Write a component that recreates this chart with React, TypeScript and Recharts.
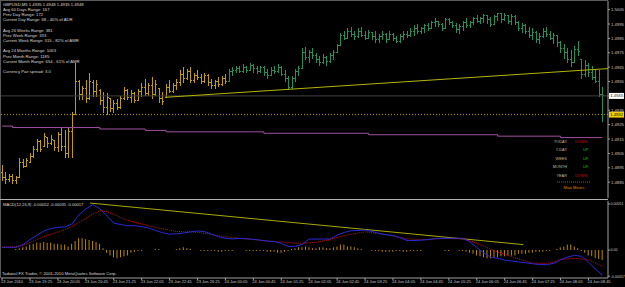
import { Bar, ComposedChart, Line, ReferenceLine, XAxis, YAxis } from 'recharts';

const FONT = '"Liberation Sans", Arial, sans-serif';
const GOLD = '#c09a14';
const GREEN = '#2e8b57';
const GREEN_FROM = 65;

// GBPUSD M5 bars, 23 Jun 18:45 .. 24 Jun 09:05
const OPEN = [
  1.4892, 1.4888, 1.4887, 1.4889, 1.4886, 1.4888, 1.4899, 1.4896, 1.4899, 1.4903,
  1.4908, 1.4913, 1.491, 1.4916, 1.4912, 1.4914, 1.4909, 1.4918, 1.491, 1.4905,
  1.492, 1.4932, 1.4955, 1.4946, 1.495, 1.4943, 1.4954, 1.4948, 1.4949, 1.4942,
  1.4937, 1.4943, 1.4936, 1.494, 1.4937, 1.4943, 1.4949, 1.4944, 1.4947, 1.4942,
  1.4948, 1.4951, 1.4947, 1.4952, 1.4946, 1.495, 1.4943, 1.4944, 1.4951, 1.4948,
  1.4952, 1.4954, 1.496, 1.4957, 1.4962, 1.4956, 1.4959, 1.4958, 1.4955, 1.4959,
  1.4954, 1.4952, 1.4955, 1.4953, 1.4957, 1.4955, 1.4962, 1.4963, 1.4964, 1.4962,
  1.4965, 1.4963, 1.4966, 1.4964, 1.4962, 1.4965, 1.4961, 1.4959, 1.4963, 1.4962,
  1.4965, 1.496, 1.4957, 1.4951, 1.4957, 1.4962, 1.4964, 1.4975, 1.4972, 1.4975,
  1.4973, 1.497, 1.4968, 1.4972, 1.4969, 1.4973, 1.4975, 1.498, 1.4987, 1.4985,
  1.499, 1.4988, 1.4986, 1.499, 1.4987, 1.4985, 1.4989, 1.4986, 1.4984, 1.4986,
  1.4988, 1.4984, 1.4988, 1.4985, 1.4983, 1.4986, 1.4988, 1.4987, 1.499, 1.4992,
  1.499, 1.4992, 1.4994, 1.4992, 1.4996, 1.4997, 1.4995, 1.4992, 1.4998, 1.4996,
  1.4994, 1.4991, 1.4993, 1.4996, 1.4994, 1.4996, 1.4999, 1.4997, 1.4999, 1.5001,
  1.4998, 1.4995, 1.5, 1.5002, 1.4998, 1.5001, 1.4997, 1.5, 1.4996, 1.4992,
  1.4994, 1.499, 1.4987, 1.4989, 1.4984, 1.4986, 1.499, 1.4988, 1.4985, 1.4987,
  1.4982, 1.4978, 1.4975, 1.497, 1.4968, 1.4977, 1.497, 1.496, 1.4966, 1.4961,
  1.4958, 1.4955, 1.4946,
];
const HIGH = [
  1.4897, 1.4892, 1.4891, 1.4891, 1.4889, 1.4902, 1.4901, 1.4902, 1.4905, 1.491,
  1.4915, 1.4914, 1.4919, 1.4916, 1.4918, 1.4914, 1.492, 1.4923, 1.4921, 1.4923,
  1.4934, 1.4968, 1.4956, 1.4952, 1.4956, 1.4961, 1.4956, 1.4956, 1.495, 1.4948,
  1.4947, 1.4943, 1.4942, 1.4943, 1.4945, 1.4951, 1.495, 1.4949, 1.4948, 1.495,
  1.4954, 1.4957, 1.4954, 1.4958, 1.4956, 1.495, 1.4948, 1.4953, 1.4956, 1.4954,
  1.4957, 1.4963, 1.4965, 1.4964, 1.4965, 1.4961, 1.4963, 1.496, 1.4961, 1.496,
  1.4957, 1.4956, 1.4958, 1.4959, 1.496, 1.4964, 1.4965, 1.4966, 1.4966, 1.4967,
  1.4966, 1.4968, 1.4967, 1.4966, 1.4966, 1.4966, 1.4964, 1.4965, 1.4966, 1.4967,
  1.4966, 1.4963, 1.4959, 1.4959, 1.4964, 1.4966, 1.4978, 1.4979, 1.4977, 1.4978,
  1.4975, 1.4973, 1.4974, 1.4973, 1.4975, 1.4977, 1.4981, 1.4989, 1.499, 1.4992,
  1.4993, 1.499, 1.4992, 1.4993, 1.499, 1.4991, 1.4989, 1.499, 1.4988, 1.499,
  1.4989, 1.499, 1.4989, 1.4987, 1.4988, 1.499, 1.499, 1.4992, 1.4994, 1.4995,
  1.4993, 1.4995, 1.4996, 1.4997, 1.4999, 1.4997, 1.4996, 1.4999, 1.4999, 1.4997,
  1.4996, 1.4995, 1.4997, 1.4999, 1.4997, 1.5, 1.5001, 1.5, 1.5002, 1.5001,
  1.5, 1.5001, 1.5003, 1.5002, 1.5003, 1.5001, 1.5002, 1.5001, 1.4997, 1.4996,
  1.4995, 1.4993, 1.4992, 1.499, 1.4989, 1.4992, 1.4993, 1.499, 1.4989, 1.4987,
  1.4983, 1.4981, 1.4978, 1.4977, 1.498, 1.4983, 1.497, 1.497, 1.4968, 1.4966,
  1.4964, 1.4963, 1.4951,
];
const LOW = [
  1.4886, 1.4884, 1.4885, 1.4884, 1.4884, 1.4888, 1.4895, 1.4896, 1.4898, 1.4902,
  1.4906, 1.4906, 1.491, 1.4909, 1.4911, 1.4907, 1.4906, 1.4907, 1.4902, 1.4902,
  1.4902, 1.4932, 1.4942, 1.4942, 1.494, 1.4942, 1.4944, 1.4944, 1.4939, 1.4933,
  1.4932, 1.4934, 1.4933, 1.4935, 1.4936, 1.4942, 1.4942, 1.494, 1.494, 1.4942,
  1.4944, 1.4945, 1.4945, 1.4943, 1.4945, 1.494, 1.4939, 1.4944, 1.4947, 1.4947,
  1.4949, 1.4952, 1.4954, 1.4956, 1.4954, 1.4954, 1.4956, 1.4953, 1.4954, 1.4952,
  1.495, 1.495, 1.4951, 1.4952, 1.4953, 1.4955, 1.4959, 1.4961, 1.4961, 1.4961,
  1.4961, 1.4963, 1.4961, 1.496, 1.4961, 1.4959, 1.4957, 1.4959, 1.496, 1.4961,
  1.4959, 1.4955, 1.4949, 1.495, 1.4955, 1.4959, 1.4964, 1.497, 1.4968, 1.4971,
  1.4968, 1.4966, 1.4967, 1.4966, 1.4968, 1.497, 1.4975, 1.498, 1.4984, 1.4985,
  1.4986, 1.4984, 1.4985, 1.4986, 1.4984, 1.4985, 1.4984, 1.4982, 1.4982, 1.4984,
  1.4982, 1.4984, 1.4983, 1.4982, 1.4982, 1.4984, 1.4985, 1.4986, 1.4987, 1.4988,
  1.4988, 1.4989, 1.499, 1.4992, 1.4993, 1.4993, 1.499, 1.4992, 1.4994, 1.4992,
  1.4989, 1.4988, 1.499, 1.4992, 1.4992, 1.4994, 1.4996, 1.4995, 1.4996, 1.4995,
  1.4993, 1.4994, 1.4997, 1.4996, 1.4997, 1.4995, 1.4994, 1.4994, 1.499, 1.4989,
  1.4988, 1.4985, 1.4984, 1.4982, 1.4981, 1.4985, 1.4986, 1.4984, 1.4981, 1.4979,
  1.4975, 1.4971, 1.4968, 1.4965, 1.4968, 1.4973, 1.4957, 1.4958, 1.4958, 1.4956,
  1.4954, 1.4944, 1.4927,
];
const CLOSE = [
  1.4888, 1.4887, 1.4889, 1.4886, 1.4888, 1.4899, 1.4896, 1.49, 1.4903, 1.4908,
  1.4913, 1.4908, 1.4917, 1.4912, 1.4915, 1.4909, 1.4918, 1.491, 1.4905, 1.492,
  1.4932, 1.4955, 1.4946, 1.495, 1.4943, 1.4955, 1.4948, 1.4953, 1.4942, 1.4937,
  1.4944, 1.4936, 1.494, 1.4937, 1.4943, 1.4949, 1.4944, 1.4947, 1.4942, 1.4948,
  1.4951, 1.4947, 1.4952, 1.4946, 1.4953, 1.4943, 1.4941, 1.4951, 1.4948, 1.4952,
  1.4954, 1.496, 1.4957, 1.4962, 1.4956, 1.4959, 1.4958, 1.4955, 1.4959, 1.4954,
  1.4952, 1.4955, 1.4953, 1.4957, 1.4955, 1.4962, 1.4963, 1.4964, 1.4962, 1.4965,
  1.4963, 1.4966, 1.4964, 1.4962, 1.4965, 1.4961, 1.4959, 1.4963, 1.4962, 1.4965,
  1.496, 1.4957, 1.4951, 1.4957, 1.4962, 1.4964, 1.4975, 1.4972, 1.4975, 1.4973,
  1.497, 1.4968, 1.4972, 1.4969, 1.4973, 1.4975, 1.498, 1.4987, 1.4985, 1.499,
  1.4988, 1.4986, 1.499, 1.4987, 1.4985, 1.4989, 1.4986, 1.4984, 1.4986, 1.4988,
  1.4984, 1.4988, 1.4985, 1.4983, 1.4986, 1.4988, 1.4987, 1.499, 1.4992, 1.499,
  1.4992, 1.4994, 1.4992, 1.4996, 1.4997, 1.4995, 1.4992, 1.4998, 1.4996, 1.4994,
  1.4991, 1.4993, 1.4996, 1.4994, 1.4996, 1.4999, 1.4997, 1.4999, 1.5001, 1.4998,
  1.4995, 1.5, 1.5002, 1.4998, 1.5001, 1.4997, 1.5, 1.4996, 1.4992, 1.4994,
  1.499, 1.4987, 1.4989, 1.4984, 1.4986, 1.499, 1.4988, 1.4985, 1.4987, 1.4982,
  1.4978, 1.4975, 1.497, 1.4968, 1.4977, 1.4976, 1.496, 1.4966, 1.4961, 1.4958,
  1.4955, 1.4946, 1.4945,
];

// slow stepped level (purple)
const PIVOT_AT = [0, 3, 28, 41, 47, 75, 105, 142, 160, 172];
const PIVOT = [1.4924, 1.4923, 1.4922, 1.4921, 1.492, 1.4919, 1.4918, 1.4917, 1.4916, 1.4916];

const BID = 1.4945;
const LEVEL = 1.4932;
const TREND_MAIN = [{ i: 46.7, p: 1.4944 }, { i: 173.6, p: 1.4964 }];

// MACD, main and signal sampled on every second bar
const MACD_MAIN = [
  0.00003, 0.00003, 0.00003, 0.000061, 0.000116, 0.000163, 0.000211, 0.000239, 0.000251, 0.000256,
  0.000288, 0.000388, 0.000455, 0.000503, 0.000458, 0.000377, 0.000299, 0.000282, 0.000269, 0.000269,
  0.000259, 0.000244, 0.000215, 0.000192, 0.000175, 0.00018, 0.000188, 0.000202, 0.000211, 0.000204,
  0.000177, 0.000147, 0.000129, 0.000123, 0.000129, 0.000125, 0.000119, 0.000108, 0.000098, 0.000094,
  0.000073, 0.000039, 0.000042, 0.000063, 0.000122, 0.000121, 0.000122, 0.000122, 0.000166, 0.000195,
  0.000213, 0.000217, 0.000221, 0.000206, 0.000184, 0.000169, 0.000162, 0.000137, 0.000105, 0.000105,
  0.000109, 0.000116, 0.000126, 0.00013, 0.00013, 0.00013, 0.00013, 0.000092, 0.000028, -0.000032,
  -0.000078, -0.000092, -0.000112, -0.000122, -0.000132, -0.000142, -0.000152, -0.000161, -0.000163, -0.000147,
  -0.000109, -0.000078, -0.000059, -0.00007, -0.000133, -0.000211, -0.000277,
];
const MACD_SIGNAL = [
  0.00003, 0.000032, 0.000035, 0.000053, 0.000083, 0.000115, 0.000149, 0.000175, 0.0002, 0.000227,
  0.000258, 0.000305, 0.000351, 0.000399, 0.000435, 0.000426, 0.000396, 0.00036, 0.000327, 0.000307,
  0.000288, 0.000268, 0.000249, 0.000233, 0.00022, 0.000206, 0.000202, 0.0002, 0.000196, 0.000185,
  0.000172, 0.000159, 0.000149, 0.000139, 0.000129, 0.000122, 0.000116, 0.000109, 0.000101, 0.000094,
  0.000089, 0.000082, 0.000075, 0.000075, 0.00008, 0.000085, 0.0001, 0.000118, 0.000139, 0.000159,
  0.000174, 0.000188, 0.000202, 0.000191, 0.000181, 0.000171, 0.000154, 0.00014, 0.000126, 0.00012,
  0.000114, 0.000115, 0.000121, 0.000127, 0.000127, 0.000125, 0.000122, 0.000101, 0.000076, 0.000043,
  0.00001, -0.000023, -0.000048, -0.000073, -0.000098, -0.000123, -0.000146, -0.000147, -0.000147, -0.000136,
  -0.000105, -0.000096, -0.000093, -0.000099, -0.00011, -0.000143, -0.000182,
];
const MACD_HIST = [
  0, 0, 0, 0, 0.00001, 0.00002, 0.00003, 0.00004, 0.00006, 0.00007,
  0.00008, 0.00008, 0.00009, 0.00008, 0.00008, 0.00007, 0.00007, 0.00006, 0.00006, 0.00004,
  0.00007, 0.0001, 0.00013, 0.00013, 0.00012, 0.00011, 0.0001, 0.00009, 0.00007, 0.00002,
  -0.00003, -0.00006, -0.00008, -0.00009, -0.00008, -0.00007, -0.00006, -0.00003, -0.00002, -0.00001,
  -0.00001, 0, 0, 0, 0.00001, 0.00001, 0, 0, 0, 0,
  0.00001, 0.00002, 0.00003, 0.00002, 0.00001, 0, 0, -0.00001, -0.00001, -0.00001,
  -0.00001, -0.00001, -0.00002, -0.00002, -0.00001, -0.00001, -0.00001, 0, 0, 0,
  -0.00001, -0.00001, -0.00001, -0.00001, -0.00001, -0.00001, -0.00002, -0.00002, -0.00002, -0.00003,
  -0.00003, -0.00002, -0.00001, 0.00001, 0.00002, 0.00003, 0.00003, 0.00004, 0.00003, 0.00002,
  0.00002, 0.00003, 0.00003, 0.00002, 0.00002, 0.00003, 0.00004, 0.00006, 0.00006, 0.00004,
  0.00004, 0.00003, 0.00002, 0.00001, 0, 0, -0.00001, -0.00001, -0.00001, -0.00002,
  -0.00002, -0.00002, -0.00002, -0.00001, -0.00001, -0.00002, -0.00002, -0.00001, -0.00001, -0.00001,
  -0.00001, 0, 0, 0, 0, 0, 0, -0.00001, -0.00001, 0,
  0, -0.00001, -0.00001, -0.00002, -0.00003, -0.00004, -0.00006, -0.00007, -0.00008, -0.00009,
  -0.00009, -0.00008, -0.00008, -0.00007, -0.00007, -0.00006, -0.00006, -0.00006, -0.00004, -0.00004,
  -0.00004, -0.00003, -0.00003, -0.00002, -0.00002, -0.00002, -0.00001, -0.00001, 0, 0.00001,
  0.00003, 0.00004, 0.00006, 0.00006, 0.00004, 0.00002, -0.00001, -0.00003, -0.00006, -0.00007,
  -0.00009, -0.0001, -0.00011,
];
const TREND_MACD = [{ i: 25.2, v: 0.00052 }, { i: 149.3, v: 0.00006 }];

const PRICE_TICKS = [
  1.5005, 1.4995, 1.4985, 1.4975, 1.4965, 1.4955, 1.4945, 1.4935, 1.4925, 1.4915, 1.4905, 1.4895, 1.4885,
];
const MACD_TICKS = [0.00051, 0, -0.00029];
const MACD_TICK_TEXT = ['0.00051', '0.00', '-0.00057'];

const TIME_LABELS = [
  '23 Jun 2010', '23 Jun 19:25', '23 Jun 20:05', '23 Jun 20:45', '23 Jun 21:25', '23 Jun 22:05',
  '23 Jun 22:45', '23 Jun 23:25', '24 Jun 00:05', '24 Jun 00:45', '24 Jun 01:25', '24 Jun 02:05',
  '24 Jun 02:45', '24 Jun 03:25', '24 Jun 04:05', '24 Jun 04:45', '24 Jun 05:25', '24 Jun 06:05',
  '24 Jun 06:45', '24 Jun 07:25', '24 Jun 08:05', '24 Jun 08:45',
];
const TIME_TICKS = TIME_LABELS.map((_, k) => k * 8);

const INFO_LINES = [
  'GBPUSD,M5  1.4935 1.4948 1.4935 1.4948',
  'Avg 60 Days Range: 167',
  'Prev Day Range: 172',
  'Current Day Range: 68 - 40% of ADR',
  '',
  'Avg 26 Weeks Range: 381',
  'Prev Week Range: 333',
  'Current Week Range: 315 - 82% of AWR',
  '',
  'Avg 24 Months Range: 1063',
  'Prev Month Range: 1185',
  'Current Month Range: 654 - 61% of AMR',
  '',
  'Currency Pair spread: 3.0',
];
const MOVE_LABELS = ['TODAY', 'Y-DAY', 'WEEK', 'MONTH', 'YEAR'];
const MOVE_STATUS = ['DOWN', 'UP', 'UP', 'UP', 'DOWN'];

const X_DOMAIN = [-0.3, 173.6];

const rows = OPEN.map((o, i) => {
  const k = PIVOT_AT.indexOf(i);
  return {
    i,
    open: o,
    high: HIGH[i],
    low: LOW[i],
    close: CLOSE[i],
    range: [LOW[i], HIGH[i]],
    pivot: k >= 0 ? PIVOT[k] : null,
    main: i % 2 === 0 ? MACD_MAIN[i / 2] : null,
    signal: i % 2 === 0 ? MACD_SIGNAL[i / 2] : null,
    hist: MACD_HIST[i],
  };
});

function OhlcShape(props: any) {
  const { x, y, width, height, payload } = props;
  if (x == null || y == null) return null;
  const top = Math.min(y, y + height);
  const h = Math.max(Math.abs(height), 1);
  const span = payload.high - payload.low || 1;
  const py = (v: number) => top + ((payload.high - v) / span) * h;
  const cx = Math.round(x + width / 2) + 0.5;
  const color = payload.i >= GREEN_FROM ? GREEN : GOLD;
  return (
    <path
      d={`M${cx},${top}V${top + h}M${cx - 1.2},${py(payload.open)}H${cx}M${cx},${py(payload.close)}H${cx + 1.2}`}
      stroke={color}
      strokeWidth={1}
      fill="none"
      shapeRendering="crispEdges"
    />
  );
}

function PriceTick({ x, y, payload }: any) {
  return (
    <text x={x} y={y + 1.5} fontSize={4.2} fontFamily={FONT} fill="#c8c8c8">
      {payload.value.toFixed(4)}
    </text>
  );
}

function MacdTick({ x, y, payload }: any) {
  const k = MACD_TICKS.indexOf(payload.value);
  return (
    <text x={x - 0.5} y={y + 1.4} fontSize={3.6} fontFamily={FONT} fill="#c8c8c8">
      {MACD_TICK_TEXT[k]}
    </text>
  );
}

function TimeTick({ x, y, payload }: any) {
  return (
    <text x={x - 1} y={y + 2} fontSize={4} fontFamily={FONT} fill="#c8c8c8">
      {TIME_LABELS[payload.value / 8]}
    </text>
  );
}

function PriceTag({ viewBox, text, bg }: any) {
  if (!viewBox) return null;
  const x = viewBox.x + viewBox.width + 1;
  const y = viewBox.y;
  return (
    <g>
      <rect x={x} y={y - 3} width={15} height={6} fill={bg} />
      <text x={x + 1.2} y={y + 1.5} fontSize={4.2} fontFamily={FONT} fill="#000">
        {text}
      </text>
    </g>
  );
}

export default function App() {
  return (
    <div
      style={{
        position: 'fixed',
        left: 0,
        top: 0,
        width: 625,
        height: 287,
        background: '#000',
        overflow: 'hidden',
      }}
    >
      <div style={{ position: 'absolute', left: 0, top: 0, width: 608, height: 1, background: '#5a5a5a' }} />
      <div style={{ position: 'absolute', left: 0, top: 0, width: 1, height: 278, background: '#5a5a5a' }} />
      <div style={{ position: 'absolute', left: 0, top: 199, width: 608, height: 1, background: '#b0b0b0' }} />

      <div style={{ position: 'absolute', left: 0, top: 0 }}>
        <ComposedChart width={625} height={199} data={rows} margin={{ top: 1, right: 0, bottom: 1, left: 1 }}>
          <XAxis dataKey="i" type="number" domain={X_DOMAIN} allowDataOverflow hide />
          <YAxis
            orientation="right"
            width={17}
            domain={[1.4874, 1.5011]}
            allowDataOverflow
            ticks={PRICE_TICKS}
            interval={0}
            tickSize={2}
            tickMargin={1}
            axisLine={{ stroke: '#a0a0a0' }}
            tickLine={{ stroke: '#a0a0a0' }}
            tick={<PriceTick />}
          />
          <ReferenceLine y={BID} stroke="#404040" label={<PriceTag text={BID.toFixed(4)} bg="#ffffff" />} />
          <ReferenceLine
            y={LEVEL}
            stroke="#b89c10"
            strokeDasharray="1 2"
            label={<PriceTag text={LEVEL.toFixed(4)} bg="#f0d000" />}
          />
          <ReferenceLine
            segment={[
              { x: TREND_MAIN[0].i, y: TREND_MAIN[0].p },
              { x: TREND_MAIN[1].i, y: TREND_MAIN[1].p },
            ]}
            stroke="#b4b400"
            strokeWidth={1}
          />
          <Line
            dataKey="pivot"
            type="stepAfter"
            stroke="#a050a0"
            strokeWidth={1}
            dot={false}
            activeDot={false}
            connectNulls
            isAnimationActive={false}
          />
          <Bar dataKey="range" barSize={3} shape={<OhlcShape />} isAnimationActive={false} />
        </ComposedChart>
      </div>

      <div style={{ position: 'absolute', left: 0, top: 199 }}>
        <ComposedChart width={625} height={88} data={rows} margin={{ top: 2, right: 0, bottom: 0, left: 1 }}>
          <XAxis
            dataKey="i"
            type="number"
            domain={X_DOMAIN}
            allowDataOverflow
            ticks={TIME_TICKS}
            interval={0}
            height={9}
            tickSize={2}
            tickMargin={1}
            axisLine={{ stroke: '#a0a0a0' }}
            tickLine={{ stroke: '#a0a0a0' }}
            tick={<TimeTick />}
          />
          <YAxis
            orientation="right"
            width={17}
            domain={[-0.00031, 0.000543]}
            allowDataOverflow
            ticks={MACD_TICKS}
            interval={0}
            tickSize={2}
            tickMargin={1}
            axisLine={{ stroke: '#a0a0a0' }}
            tickLine={{ stroke: '#a0a0a0' }}
            tick={<MacdTick />}
          />
          <ReferenceLine
            segment={[
              { x: TREND_MACD[0].i, y: TREND_MACD[0].v },
              { x: TREND_MACD[1].i, y: TREND_MACD[1].v },
            ]}
            stroke="#a8a800"
            strokeWidth={1}
          />
          <Bar dataKey="hist" barSize={1} fill="#b8860b" isAnimationActive={false} />
          <Line
            dataKey="signal"
            stroke="#c81414"
            strokeDasharray="1 1"
            strokeWidth={1}
            dot={false}
            activeDot={false}
            connectNulls
            isAnimationActive={false}
          />
          <Line
            dataKey="main"
            stroke="#2a2ad8"
            strokeWidth={1}
            dot={false}
            activeDot={false}
            connectNulls
            isAnimationActive={false}
          />
        </ComposedChart>
      </div>

      <svg width={625} height={287} style={{ position: 'absolute', left: 0, top: 0, pointerEvents: 'none' }}>
        <g fontFamily={FONT} fontSize={4.2} fill="#d8d8d8">
          {INFO_LINES.map((t, k) => (
            <text key={k} x={3} y={5.5 + k * 5.2}>
              {t}
            </text>
          ))}
        </g>
        <g fontFamily={FONT} fontSize={3.9}>
          {MOVE_LABELS.map((t, k) => (
            <g key={t}>
              <text x={567} y={142.5 + k * 8.6} textAnchor="end" fill="#c8b496">
                {t}
              </text>
              <text
                x={MOVE_STATUS[k] === 'UP' ? 583 : 575}
                y={142.5 + k * 8.6}
                fill={MOVE_STATUS[k] === 'UP' ? '#1fbf1f' : '#cc1010'}
              >
                {MOVE_STATUS[k]}
              </text>
            </g>
          ))}
          <line x1={557} x2={591} y1={182} y2={182} stroke="#d08000" strokeWidth={0.7} strokeDasharray="1 1" />
          <text x={574} y={189} textAnchor="middle" fill="#d88a00">
            Main Moves
          </text>
        </g>
        <text x={3} y={205.5} fontFamily={FONT} fontSize={4.1} fill="#d8d8d8">
          MACD(12,26,9) -0.00052 -0.00035 -0.00017
        </text>
        <text x={2} y={274.5} fontFamily={FONT} fontSize={4.2} fill="#d8d8d8">
          Tadawul FX Trader, © 2001-2010 MetaQuotes Software Corp.
        </text>
      </svg>
    </div>
  );
}
